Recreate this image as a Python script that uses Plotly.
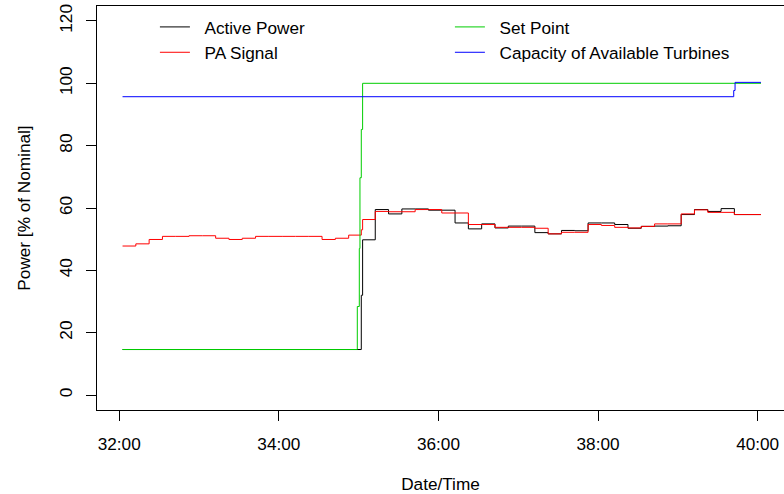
import pandas as pd
import plotly.graph_objects as go

BASE = pd.Timestamp("2019-06-01 10:32:00")

# time in seconds after 32:00, values in % of nominal
ap_t = [2.5, 182, 183, 192.5, 202.5, 212.5, 222.5, 232.5, 242.5, 252.5, 262.5,
        272.5, 282.5, 292.5, 302.5, 312.5, 322.5, 332.5, 342.5, 352.5, 362.5,
        372.5, 382.5, 392.5, 402.5, 412.5, 422.5, 432.5, 442.5, 452.5, 462.5,
        472.5, 482.5]
ap_v = [14.6, 32.0, 49.8, 59.5, 58.1, 59.7, 59.7, 59.3, 59.3, 55.2, 53.3,
        54.9, 53.6, 54.2, 54.2, 52.1, 51.7, 52.8, 52.7, 55.2, 55.2,
        54.7, 53.5, 54.1, 54.2, 54.3, 57.9, 59.5, 58.9, 59.8, 57.9,
        57.9, 57.9]

pa_t = [2.5, 12.5, 22.5, 32.5, 42.5, 52.5, 62.5, 72.5, 82.5, 92.5, 102.5,
        112.5, 122.5, 132.5, 142.5, 152.5, 162.5, 172.5, 182, 183, 192.5,
        202.5, 212.5, 222.5, 232.5, 242.5, 252.5, 262.5, 272.5, 282.5, 292.5,
        302.5, 312.5, 322.5, 332.5, 342.5, 352.5, 362.5, 372.5, 382.5, 392.5,
        402.5, 412.5, 422.5, 432.5, 442.5, 452.5, 462.5, 472.5, 482.5]
pa_v = [47.8, 48.5, 49.9, 50.9, 50.9, 51.1, 51.1, 50.3, 49.9, 50.3, 50.9,
        50.9, 50.9, 50.9, 50.9, 49.9, 50.3, 51.3, 53.0, 56.3, 58.9,
        58.8, 58.8, 59.5, 59.5, 58.4, 58.4, 54.7, 54.7, 53.8, 53.8,
        53.8, 53.5, 51.7, 52.2, 52.2, 54.7, 54.4, 53.8, 53.6, 54.1,
        54.9, 54.9, 58.1, 59.4, 58.6, 58.6, 57.9, 57.9, 57.9]

sp_t = [2.5, 179, 180.5, 181, 182, 183, 482.5]
sp_v = [14.6, 28.4, 47.0, 69.7, 85.2, 100.0, 100.0]

cap_t = [2.5, 462, 463, 482.5]
cap_v = [95.7, 97.7, 100.3, 100.3]

names = ["Active Power", "PA Signal", "Set Point", "Capacity of Available Turbines"]
colors = ["#000000", "#FF0000", "#00CD00", "#0000FF"]
ranks = [1, 3, 2, 4]

y_ticks = [0, 20, 40, 60, 80, 100, 120]

def to_time(secs):
    return [BASE + pd.Timedelta(seconds=s) for s in secs]

FONT = "Liberation Sans, Arial, sans-serif"
FS = 17.2
PAD = "\u00a0\u00a0"

fig = go.Figure()
for (t, v), name, col, rk in zip([(ap_t, ap_v), (pa_t, pa_v), (sp_t, sp_v), (cap_t, cap_v)],
                                 names, colors, ranks):
    fig.add_trace(go.Scatter(x=to_time(t), y=v, mode="lines", name=PAD + name,
                             line=dict(color=col, width=1, shape="hv"),
                             legendrank=rk))

fig.update_layout(
    width=784, height=494,
    margin=dict(l=97, r=0, t=6, b=84),
    paper_bgcolor="white", plot_bgcolor="white",
    font=dict(family=FONT, size=FS, color="black"),
    showlegend=True,
    legend=dict(orientation="h", x=0.0843, y=0.992, xanchor="left", yanchor="top",
                bgcolor="rgba(0,0,0,0)", font=dict(size=FS),
                entrywidth=250, entrywidthmode="pixels"),
    xaxis=dict(type="date",
               range=[BASE - pd.Timedelta(seconds=16.7), BASE + pd.Timedelta(seconds=499.8)],
               tick0=BASE, dtick=120000, tickformat="%M:%S",
               ticks="outside", ticklen=10, tickcolor="black",
               ticklabelstandoff=8, tickfont=dict(size=FS),
               showline=True, linecolor="black", linewidth=1, mirror=True,
               showgrid=False, zeroline=False,
               title=dict(text="Date/Time", standoff=28, font=dict(size=FS)),
               automargin=False),
    yaxis=dict(range=[-4.8, 124.8], tickvals=y_ticks, tickangle=-90,
               ticks="outside", ticklen=10, tickcolor="black",
               ticklabelstandoff=7, tickfont=dict(size=FS),
               showline=True, linecolor="black", linewidth=1,
               showgrid=False, zeroline=False,
               title=dict(text="Power [% of Nominal]", standoff=21, font=dict(size=FS)),
               automargin=False),
)

fig.write_html("out.html", config={"displayModeBar": False},
               post_script="document.body.style.margin='0';")
